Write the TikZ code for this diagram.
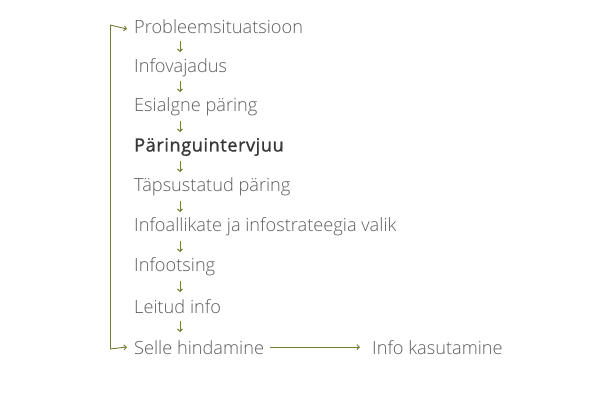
\documentclass[tikz,border=0pt]{standalone}
\usepackage{fontspec}
\setmainfont{Open Sans}[UprightFont={* Light}]
\newfontfamily\boldfam{Open Sans}[FakeBold=1.2,LetterSpace=3]
\usetikzlibrary{arrows.meta}
\definecolor{olive}{HTML}{6E8030}
\definecolor{txt}{HTML}{5C5C5C}
\tikzset{
  lbl/.style={anchor=west,inner sep=0pt,text=txt,font=\fontsize{18.2}{20}\selectfont},
  flow/.style={draw=olive,line width=0.9pt,-{Straight Barb[length=2.5pt,width=5pt]}},
}
\begin{document}
\begin{tikzpicture}[x=1pt,y=-1pt]
\useasboundingbox (0,0) rectangle (600,400);
\node[lbl] (n1) at (134,27) {Probleemsituatsioon};
\node[lbl] (n2) at (134,68) {Infovajadus};
\node[lbl] (n3) at (134,107) {Esialgne päring};
\node[lbl,font=\fontsize{18.2}{20}\selectfont\boldfam,text=black!78] (n4) at (134,147) {Päringuintervjuu};
\node[lbl] (n5) at (134,187) {Täpsustatud päring};
\node[lbl] (n6) at (134,227) {Infoallikate ja infostrateegia valik};
\node[lbl] (n7) at (134,267) {Infootsing};
\node[lbl] (n8) at (134,307) {Leitud info};
\node[lbl] (n9) at (134,348) {Selle hindamine};
\node[lbl] (n10) at (372,348) {Info kasutamine};
\foreach \ya in {41,81,121,161,201,241,281,321}{
  \coordinate (s) at (180,\ya); \coordinate (e) at (180,\ya+11);
  \draw[flow] (s) -- (e);
}
\coordinate (c1) at (110,349);
\coordinate (c2) at (110,25);
\draw[flow,-] (c1) -- (c2);
\draw[flow] (c1) -- ([xshift=-7pt,yshift=1pt]n9.west);
\draw[flow] (c2) -- ([xshift=-7pt,yshift=-2pt]n1.west);
\draw[flow] ([xshift=6pt,yshift=1pt]n9.east) -- ([xshift=-12pt,yshift=1pt]n10.west);
\end{tikzpicture}
\end{document}
